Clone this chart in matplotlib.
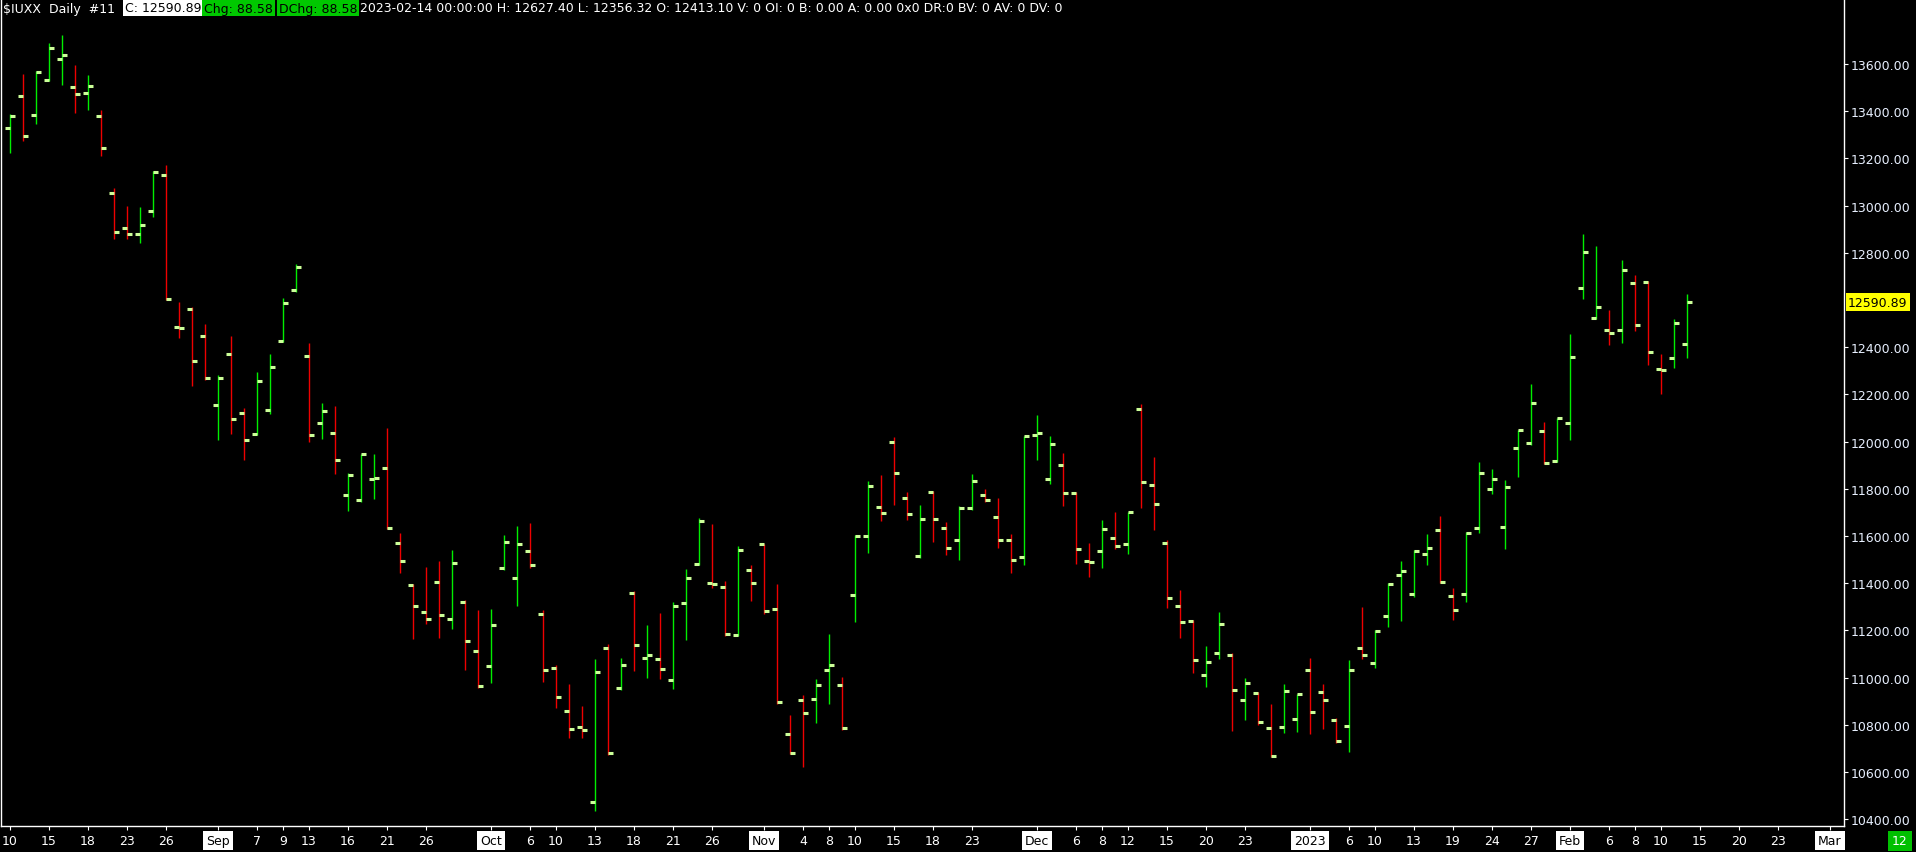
import matplotlib
matplotlib.use('Agg')
import matplotlib.pyplot as plt
import numpy as np
import pandas as pd

# $IUXX daily bars, 2022-08-10 .. 2023-02-14
opens = [13327, 13463, 13383, 13531, 13620, 13501, 13476, 13378, 13052, 12904,
         12878, 12976, 13128, 12484, 12560, 12446, 12154, 12370, 12120, 12031,
         12132, 12425, 12641, 12361, 12077, 12035, 11772, 11751, 11840, 11887,
         11569, 11391, 11277, 11404, 11247, 11319, 11111, 11048, 11463, 11421,
         11535, 11268, 11039, 10857, 10789, 10471, 11124, 10955, 11357, 11082,
         11077, 10988, 11315, 11480, 11400, 11383, 11179, 11455, 11565, 11289,
         10760, 10904, 10908, 11031, 10967, 11349, 11599, 11722, 11997, 11760,
         11514, 11785, 11633, 11582, 11717, 11772, 11679, 11582, 11510, 12027,
         11840, 11899, 11781, 11493, 11535, 11590, 11565, 12137, 11815, 11569,
         11302, 11238, 11010, 11103, 11094, 10904, 10933, 10785, 10789, 10823,
         11031, 10938, 10819, 10794, 11124, 11061, 11260, 11433, 11353, 11522,
         11624, 11344, 11353, 11633, 11798, 11637, 11972, 11993, 12044, 11916,
         12077, 12649, 12522, 12472, 12472, 12671, 12675, 12306, 12353, 12413.10]
highs = [13388, 13558, 13572, 13689, 13723, 13596, 13553, 13405, 13075, 12998,
         12994, 13145, 13172, 12592, 12569, 12498, 12282, 12447, 12142, 12295,
         12371, 12608, 12753, 12418, 12164, 12151, 11867, 11949, 11947, 12058,
         11613, 11395, 11469, 11494, 11541, 11327, 11286, 11291, 11604, 11642,
         11655, 11286, 11053, 10973, 10880, 11079, 11142, 11083, 11366, 11223,
         11274, 11320, 11460, 11675, 11651, 11409, 11558, 11477, 11568, 11397,
         10842, 10926, 10994, 11185, 11003, 11604, 11833, 11859, 12020, 11786,
         11731, 11791, 11658, 11727, 11863, 11799, 11761, 11609, 12025, 12113,
         12024, 11952, 11785, 11570, 11668, 11702, 11702, 12159, 11935, 11582,
         11371, 11242, 11134, 11278, 11103, 10998, 10937, 10888, 10973, 10932,
         11083, 10973, 10827, 11075, 11299, 11200, 11400, 11494, 11539, 11609,
         11685, 11380, 11616, 11914, 11884, 11837, 12051, 12244, 12083, 12102,
         12456, 12880, 12829, 12558, 12770, 12706, 12679, 12371, 12520, 12627.40]
lows = [13224, 13275, 13347, 13528, 13512, 13394, 13406, 13212, 12860, 12860,
        12843, 12953, 12598, 12439, 12237, 12262, 12008, 12034, 11923, 12026,
        12118, 12420, 12636, 12000, 12012, 11864, 11707, 11746, 11758, 11630,
        11445, 11165, 11227, 11169, 11207, 11034, 10958, 10979, 11458, 11305,
        11466, 10983, 10870, 10745, 10744, 10436, 10674, 10949, 11029, 10998,
        10994, 10953, 11159, 11476, 11380, 11175, 11175, 11325, 11270, 10890,
        10675, 10623, 10809, 10890, 10780, 11237, 11529, 11665, 11733, 11669,
        11508, 11576, 11521, 11500, 11712, 11746, 11551, 11445, 11479, 11923,
        11822, 11729, 11483, 11428, 11466, 11546, 11525, 11720, 11627, 11296,
        11169, 11021, 10962, 11080, 10775, 10822, 10801, 10662, 10767, 10771,
        10763, 10784, 10722, 10686, 11080, 11042, 11216, 11241, 11343, 11479,
        11400, 11244, 11322, 11614, 11778, 11545, 11851, 11986, 11904, 11912,
        12007, 12604, 12518, 12409, 12418, 12470, 12325, 12202, 12312, 12356.32]
closes = [13378, 13294, 13565, 13666, 13637, 13471, 13505, 13243, 12887, 12878,
          12916, 13141, 12603, 12480, 12340, 12268, 12268, 12094, 12005, 12255,
          12315, 12586, 12738, 12027, 12128, 11921, 11857, 11946, 11844, 11633,
          11493, 11302, 11247, 11264, 11484, 11154, 10963, 11222, 11573, 11565,
          11476, 11031, 10916, 10781, 10776, 11022, 10679, 11052, 11137, 11094,
          11035, 11302, 11421, 11662, 11397, 11183, 11539, 11399, 11281, 10895,
          10679, 10849, 10967, 11052, 10785, 11599, 11812, 11696, 11866, 11692,
          11671, 11671, 11548, 11717, 11832, 11751, 11582, 11497, 12022, 12035,
          11988, 11781, 11544, 11488, 11628, 11556, 11700, 11828, 11734, 11336,
          11234, 11073, 11065, 11226, 10946, 10976, 10811, 10666, 10942, 10929,
          10853, 10904, 10730, 11031, 11097, 11196, 11395, 11450, 11535, 11548,
          11404, 11285, 11611, 11866, 11840, 11806, 12048, 12162, 11908, 12099,
          12357, 12802, 12569, 12459, 12726, 12493, 12378, 12302, 12502.31, 12590.89]

# trading days (Presidents' Day 2023-02-20 is still on the empty future part)
holidays = ['2022-09-05', '2022-11-24', '2022-12-26', '2023-01-02', '2023-01-16']
days = pd.bdate_range('2022-08-10', '2023-03-03')
days = days[~days.isin(pd.to_datetime(holidays))]

tick_days = ['2022-08-10', '2022-08-15', '2022-08-18', '2022-08-23', '2022-08-26',
             '2022-09-01', '2022-09-07', '2022-09-09', '2022-09-13', '2022-09-16',
             '2022-09-21', '2022-09-26', '2022-10-03', '2022-10-06', '2022-10-10',
             '2022-10-13', '2022-10-18', '2022-10-21', '2022-10-26', '2022-11-01',
             '2022-11-04', '2022-11-08', '2022-11-10', '2022-11-15', '2022-11-18',
             '2022-11-23', '2022-12-01', '2022-12-06', '2022-12-08', '2022-12-12',
             '2022-12-15', '2022-12-20', '2022-12-23', '2023-01-03', '2023-01-06',
             '2023-01-10', '2023-01-13', '2023-01-19', '2023-01-24', '2023-01-27',
             '2023-02-01', '2023-02-06', '2023-02-08', '2023-02-10', '2023-02-15',
             '2023-02-20', '2023-02-23', '2023-03-01']
tick_text = ['10', '15', '18', '23', '26', 'Sep', '7', '9', '13', '16', '21', '26',
             'Oct', '6', '10', '13', '18', '21', '26', 'Nov', '4', '8', '10', '15',
             '18', '23', 'Dec', '6', '8', '12', '15', '20', '23', '2023', '6', '10',
             '13', '19', '24', '27', 'Feb', '6', '8', '10', '15', '20', '23', 'Mar']
month_marks = ['Sep', 'Oct', 'Nov', 'Dec', '2023', 'Feb', 'Mar']

yticks = [10400, 10600, 10800, 11000, 11200, 11400, 11600, 11800, 12000,
          12200, 12400, 12800, 13000, 13200, 13400, 13600]
last_price = 12590.89

W, H = 1916, 853
fig = plt.figure(figsize=(W / 100, H / 100), dpi=100, facecolor='black')
ax = fig.add_axes([1 / W, 26 / H, 1843 / W, 827 / H])
ax.set_facecolor('black')

x = np.arange(len(opens))
o = np.array(opens)
c = np.array(closes)
col = np.where(c >= o, '#00ee00', '#ee0000')
ax.vlines(x, lows, highs, colors=col, lw=1.0)
ax.hlines(o, x - 0.42, x, color='#ccff99', lw=2.2)
ax.hlines(c, x, x + 0.42, color='#ccff99', lw=2.2)

ax.set_xlim(-0.692, 141.08)
ax.set_ylim(10371.2, 13875.4)

for s in ['left', 'right', 'bottom']:
    ax.spines[s].set_color('white')
    ax.spines[s].set_linewidth(1)
ax.spines['top'].set_visible(False)

ax.yaxis.tick_right()
ax.set_yticks(yticks)
ax.set_yticklabels(['%.2f' % v for v in yticks])
ax.tick_params(axis='y', colors='white', labelcolor='#e8f0ff', length=3, width=0.8,
               pad=2, labelsize=9)

pos = [days.get_loc(pd.Timestamp(d)) for d in tick_days]
ax.set_xticks(pos)
ax.set_xticklabels(tick_text)
ax.tick_params(axis='x', colors='white', labelcolor='white', length=3, width=0.8,
               pad=3, labelsize=9)
for lbl in ax.get_xticklabels():
    if lbl.get_text() in month_marks:
        lbl.set_color('black')
        lbl.set_bbox(dict(boxstyle='square,pad=0.25', fc='white', ec='none'))

# last price marker on the price scale
ax.text(1.0 + 4 / 1843, last_price, '%.2f' % last_price, transform=ax.get_yaxis_transform(),
        ha='left', va='center', fontsize=9, color='black', clip_on=False,
        bbox=dict(boxstyle='square,pad=0.2', fc='#ffff00', ec='none'))

# header line
def px(xp, yp):
    return xp / W, 1 - yp / H

fig.text(*px(3, 9), '$IUXX  Daily  #11', color='white', fontsize=9, va='center')
fig.text(*px(125, 9), 'C: 12590.89', color='black', fontsize=9, va='center',
         bbox=dict(boxstyle='square,pad=0.15', fc='white', ec='none'))
fig.text(*px(204, 9), 'Chg: 88.58', color='black', fontsize=9, va='center',
         bbox=dict(boxstyle='square,pad=0.15', fc='#00c800', ec='none'))
fig.text(*px(279, 9), 'DChg: 88.58', color='black', fontsize=9, va='center',
         bbox=dict(boxstyle='square,pad=0.15', fc='#00c800', ec='none'))
fig.text(*px(360, 9), '2023-02-14 00:00:00 H: 12627.40 L: 12356.32 O: 12413.10 V: 0 OI: 0 '
         'B: 0.00 A: 0.00 0x0 DR:0 BV: 0 AV: 0 DV: 0', color='white', fontsize=9, va='center')

fig.text(*px(1900, 842), '12', color='white', fontsize=9, ha='center', va='center',
         bbox=dict(boxstyle='square,pad=0.3', fc='#00c000', ec='none'))

fig.savefig('out.png', dpi=100, facecolor='black')
